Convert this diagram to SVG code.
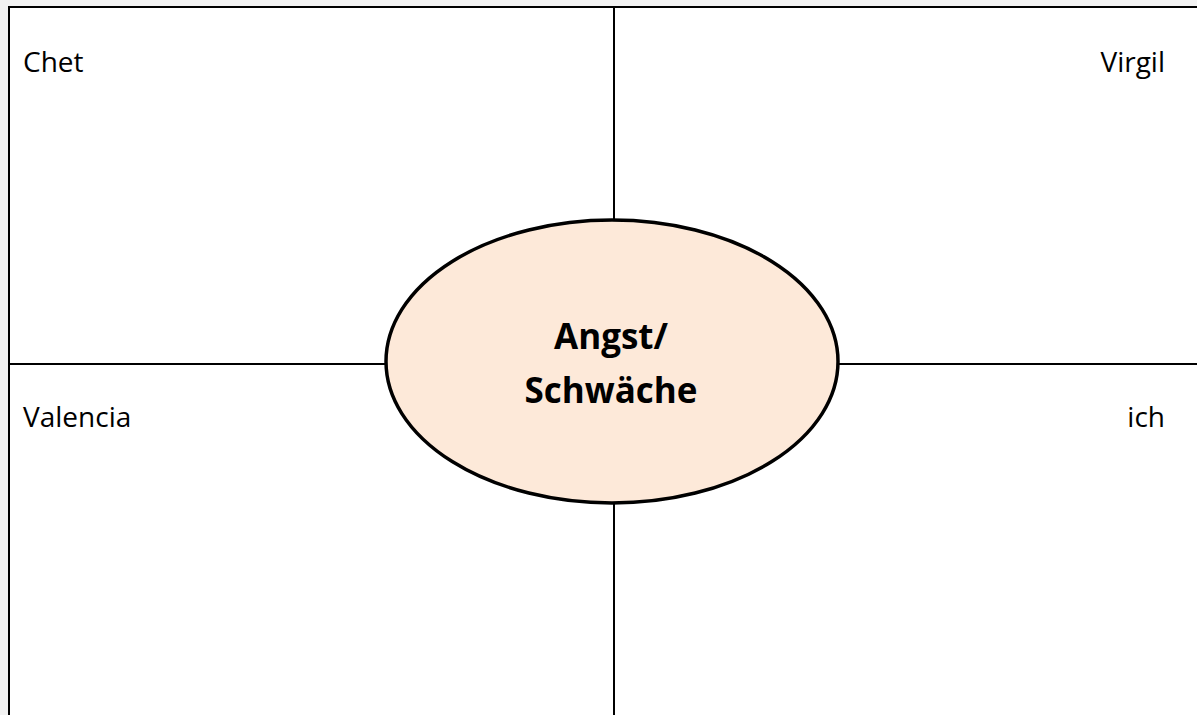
<svg xmlns="http://www.w3.org/2000/svg" width="1197" height="715" viewBox="0 0 1197 715">
<style>
.lbl{font-family:"Open Sans","Liberation Sans",sans-serif;font-size:28px;fill:#000}
.ctr{font-family:"Open Sans","Liberation Sans",sans-serif;font-size:35px;font-weight:bold;fill:#000;text-anchor:middle}
.ln{stroke:#000;stroke-width:2;fill:none}
</style>
<rect x="0" y="0" width="1197" height="715" fill="#f2f2f2"/>
<rect x="9" y="7" width="1188" height="708" fill="#fff"/>
<g id="connectors">
<line class="ln" x1="9" y1="7" x2="1197" y2="7"/>
<line class="ln" x1="9" y1="6" x2="9" y2="715"/>
<line class="ln" x1="614" y1="7" x2="614" y2="715"/>
<line class="ln" x1="9" y1="364" x2="1197" y2="364"/>
</g>
<g id="chet"><text class="lbl" x="23" y="72">Chet</text></g>
<g id="virgil"><text class="lbl" x="1165" y="72" text-anchor="end">Virgil</text></g>
<g id="valencia"><text class="lbl" x="23" y="427">Valencia</text></g>
<g id="ich"><text class="lbl" x="1165" y="427" text-anchor="end">ich</text></g>
<g id="center">
<ellipse cx="612" cy="361.5" rx="226" ry="141.5" fill="#fde9d9" stroke="#000" stroke-width="3.5"/>
<text class="ctr" x="611" y="349">Angst/</text>
<text class="ctr" x="611" y="403">Schwäche</text>
</g>
</svg>
